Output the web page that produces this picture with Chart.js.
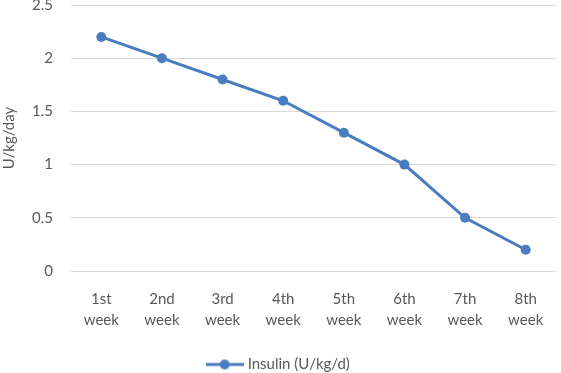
<!DOCTYPE html>
<html lang="en">
<head>
    <meta charset="UTF-8">
    <title>Insulin</title>
    <script src="https://cdn.jsdelivr.net/npm/chart.js"></script>
    <style>
        html, body { margin: 0; padding: 0; background: #fff; }
        .chart-wrapper { position: relative; width: 561px; height: 373px; }
    </style>
</head>
<body>
    <div class="chart-wrapper">
        <canvas id="insulinChart"></canvas>
    </div>

    <script>
        const weeks = [["1st", "week"], ["2nd", "week"], ["3rd", "week"], ["4th", "week"],
                       ["5th", "week"], ["6th", "week"], ["7th", "week"], ["8th", "week"]];
        const insulin = [2.2, 2.0, 1.8, 1.6, 1.3, 1.0, 0.5, 0.2];
        const yTicks = [0, 0.5, 1, 1.5, 2, 2.5];

        const blue = '#4a7cc0';
        const textColor = '#595959';
        const fontFamily = 'Lato, "Open Sans", sans-serif';

        // legend marker: line with a dot, like the spreadsheet legend
        const marker = document.createElement('canvas');
        marker.width = 38; marker.height = 12;
        const mctx = marker.getContext('2d');
        mctx.strokeStyle = blue; mctx.lineWidth = 3;
        mctx.beginPath(); mctx.moveTo(0, 6); mctx.lineTo(38, 6); mctx.stroke();
        mctx.fillStyle = blue;
        mctx.beginPath(); mctx.arc(19, 6, 5, 0, Math.PI * 2); mctx.fill();

        new Chart(document.getElementById('insulinChart').getContext('2d'), {
            type: 'line',
            data: {
                labels: weeks,
                datasets: [{
                    label: 'Insulin (U/kg/d)',
                    data: insulin,
                    borderColor: blue,
                    backgroundColor: blue,
                    borderWidth: 3,
                    pointRadius: 5,
                    pointBackgroundColor: blue,
                    pointBorderWidth: 0,
                    tension: 0
                }]
            },
            options: {
                responsive: true,
                maintainAspectRatio: false,
                animation: false,
                layout: { padding: { top: 5, right: 2, left: 0, bottom: -9 } },
                scales: {
                    y: {
                        min: 0, max: 2.5,
                        afterBuildTicks: (scale) => { scale.ticks = yTicks.map(v => ({ value: v })); },
                        afterFit: (scale) => {
                            scale.width = 71;
                            scale.paddingTop = 0;    // tick padding would otherwise push the plot down
                            scale.paddingBottom = 0;
                        },
                        grid: { color: '#d9d9d9', lineWidth: 1, drawTicks: false },
                        border: { display: false },
                        ticks: {
                            color: textColor,
                            padding: 18,
                            font: { family: fontFamily, size: 15 },
                            callback: (v) => String(v)
                        },
                        title: {
                            display: true,
                            text: 'U/kg/day',
                            color: textColor,
                            font: { family: fontFamily, size: 15 },
                            padding: 0
                        }
                    },
                    x: {
                        offset: true,
                        grid: { display: false, drawTicks: false },
                        border: { display: false },
                        afterFit: (scale) => {
                            scale.height = 86;
                            scale.paddingLeft = 0;
                            scale.paddingRight = 0;
                        },
                        ticks: {
                            color: textColor,
                            padding: 18,
                            maxRotation: 0,
                            font: { family: fontFamily, size: 15, lineHeight: 1.4 }
                        }
                    }
                },
                plugins: {
                    legend: {
                        position: 'bottom',
                        labels: {
                            usePointStyle: true,
                            pointStyle: marker,
                            pointStyleWidth: 31,
                            color: textColor,
                            padding: 0,
                            font: { family: fontFamily, size: 15 }
                        }
                    },
                    tooltip: { enabled: true }
                }
            }
        });
    </script>
</body>
</html>
